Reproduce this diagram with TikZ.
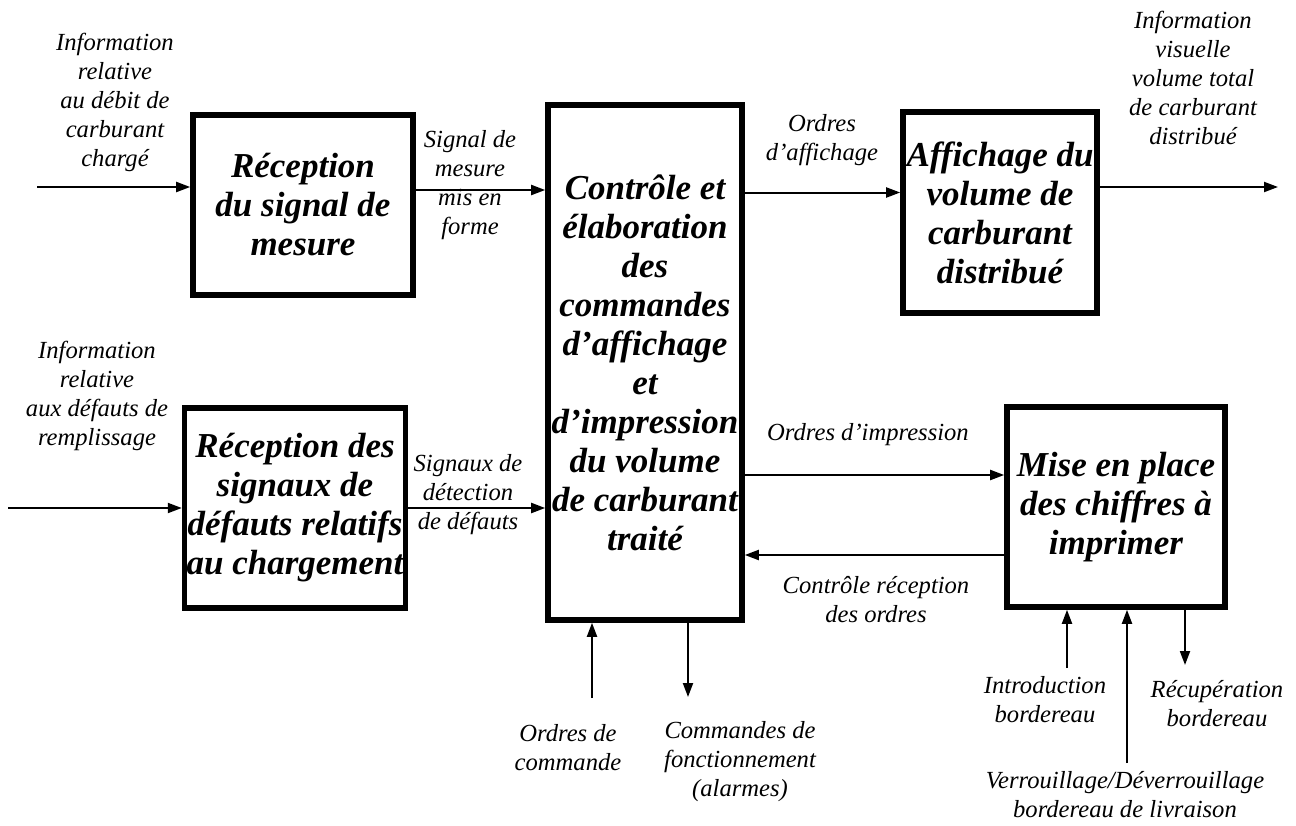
\documentclass[tikz,border=0pt]{standalone}
\usepackage{fontspec}
\setmainfont{Liberation Serif}
\usetikzlibrary{arrows.meta}

\begin{document}
\begin{tikzpicture}[x=0.5pt,y=-0.5pt,
    bloc/.style={draw,line width=2.8pt,align=center,inner sep=1pt,
      font=\fontsize{17.5}{19.5}\selectfont\bfseries\itshape},
    etiq/.style={align=center,inner sep=0pt,
      font=\fontsize{12.3}{14.5}\selectfont\itshape},
    fleche/.style={-{Triangle[length=7pt,width=5pt]},line width=1pt}]
  \useasboundingbox (0,0) rectangle (1296,825);
  \draw
    (303,205) node[bloc,minimum width=110pt,minimum height=90pt] (recep1) {Réception\\du signal de\\mesure}
    (295,508) node[bloc,minimum width=110pt,minimum height=100pt] (recep2) {Réception des\\signaux de\\défauts relatifs\\au chargement}
    (645,362.5) node[bloc,minimum width=97pt,minimum height=257.5pt] (ctrl) {Contrôle et\\élaboration\\des\\commandes\\d’affichage\\et\\d’impression\\du volume\\de carburant\\traité}
    (1000,212.5) node[bloc,minimum width=97pt,minimum height=100.5pt] (affich) {Affichage du\\volume de\\carburant\\distribué}
    (1116,507) node[bloc,minimum width=109pt,minimum height=100pt] (mise) {Mise en place\\des chiffres à\\imprimer};
  % entrees et sorties libres
  \coordinate (in1) at (37,187);
  \coordinate (in2) at (8,508);
  \coordinate (out1) at (1278,187);
  \coordinate (cmdin) at (592,698);
  \coordinate (alarm) at (688,697);
  \coordinate (intro) at (1067,668);
  \coordinate (verrou) at (1127,763);
  \coordinate (recup) at (1185,665);
  \draw[fleche] (in1) -- (in1 -| recep1.west);
  \draw[fleche] ([yshift=7.5pt]recep1.east) -- ([yshift=7.5pt]recep1.east -| ctrl.west);
  \draw[fleche] ([yshift=10pt]affich.west -| ctrl.east) -- ([yshift=10pt]affich.west);
  \draw[fleche] (affich.east |- out1) -- (out1);
  \draw[fleche] (in2) -- (recep2.west);
  \draw[fleche] (recep2.east) -- (recep2.east -| ctrl.west);
  \draw[fleche] ([yshift=16pt]mise.west -| ctrl.east) -- ([yshift=16pt]mise.west);
  \draw[fleche] ([yshift=-24pt]mise.west) -- ([yshift=-24pt]mise.west -| ctrl.east);
  \draw[fleche] (cmdin) -- (cmdin |- ctrl.south);
  \draw[fleche] (alarm |- ctrl.south) -- (alarm);
  \draw[fleche] (intro) -- (intro |- mise.south);
  \draw[fleche] (verrou) -- (verrou |- mise.south);
  \draw[fleche] (recup |- mise.south) -- (recup);
  % etiquettes
  \draw
    (115,102) node[etiq] (lin1) {Information\\relative\\au débit de\\carburant\\chargé}
    (470,185) node[etiq] (lsig) {Signal de\\mesure\\mis en\\forme}
    (822,140) node[etiq] (laff) {Ordres\\d'affichage}
    (1193,78) node[etiq] (lvis) {Information\\visuelle\\volume total\\de carburant\\distribué}
    (97,396) node[etiq] (lin2) {Information\\relative\\aux défauts de\\remplissage}
    (468,495) node[etiq] (ldef) {Signaux de\\détection\\de défauts}
    (868,435) node[etiq] (limp) {Ordres d'impression}
    (876,600) node[etiq] (lrec) {Contrôle réception\\des ordres}
    (568,748) node[etiq] (lcmd) {Ordres de\\commande}
    (740,762) node[etiq] (lfct) {Commandes de\\fonctionnement\\(alarmes)}
    (1045,700) node[etiq] (lintro) {Introduction\\bordereau}
    (1125,795) node[etiq] (lverr) {Verrouillage/Déverrouillage\\bordereau de livraison}
    (1217,704) node[etiq] (lrecup) {Récupération\\bordereau};
\end{tikzpicture}
\end{document}
